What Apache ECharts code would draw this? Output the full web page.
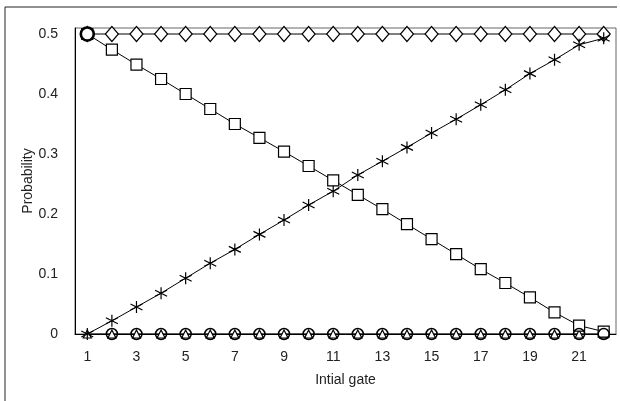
<!DOCTYPE html>
<html><head><meta charset="utf-8">
<script src="https://cdn.jsdelivr.net/npm/echarts@6/dist/echarts.min.js"></script>
<style>html,body{margin:0;padding:0;background:#fff}#c{width:620px;height:401px}</style>
</head><body><div id="c"></div>
<script>
const gates = ['1','2','3','4','5','6','7','8','9','10','11','12','13','14','15','16','17','18','19','20','21','22'];
const diamondVals = [0.5,0.5,0.5,0.5,0.5,0.5,0.5,0.5,0.5,0.5,0.5,0.5,0.5,0.5,0.5,0.5,0.5,0.5,0.5,0.5,0.5,0.5];
const squareVals = [0.5,0.474,0.449,0.425,0.400,0.375,0.350,0.327,0.304,0.280,0.256,0.232,0.208,0.183,0.158,0.133,0.108,0.085,0.061,0.036,0.014,0.004];
const starVals = [0,0.022,0.045,0.068,0.093,0.118,0.141,0.166,0.190,0.215,0.238,0.265,0.288,0.311,0.335,0.358,0.382,0.407,0.434,0.457,0.482,0.493];
const circleVals = [0.5,0,0,0,0,0,0,0,0,0,0,0,0,0,0,0,0,0,0,0,0,0];
const triangleVals = [0,0,0,0,0,0,0,0,0,0,0,0,0,0,0,0,0,0,0,0,0,0];
const yTicks = [0,0.1,0.2,0.3,0.4,0.5];

const font = '"Liberation Sans", Arial, sans-serif';
const hollow = {color:'#fff', borderColor:'#000', borderWidth:1.2};
const line = {color:'#000', width:1};
const circleData = circleVals.map(function(v, i){
  return i === 0 ? {value:v, symbolSize:13, itemStyle:{color:'#fff', borderColor:'#000', borderWidth:2.6}} : v;
});
const chart = echarts.init(document.getElementById('c'), null, {renderer:'canvas'});
chart.setOption({
  animation:false,
  backgroundColor:'#fff',
  graphic:[
    {type:'line', shape:{x1:5,y1:7,x2:617,y2:7}, style:{stroke:'#222',lineWidth:1}},
    {type:'line', shape:{x1:5,y1:7,x2:5,y2:401}, style:{stroke:'#222',lineWidth:1}}
  ],
  grid:{left:75, right:4, top:28, bottom:67, show:true, borderColor:'#666', borderWidth:1},
  xAxis:{
    type:'category', data:gates, boundaryGap:true,
    name:'Intial gate', nameLocation:'middle', nameGap:39, nameMoveOverlap:false,
    nameTextStyle:{fontFamily:font, fontSize:14, color:'#222'},
    axisLine:{show:true, lineStyle:{color:'#000', width:1}},
    axisTick:{show:false},
    axisLabel:{interval:1, fontFamily:font, fontSize:14, color:'#222', margin:16},
    splitLine:{show:false}
  },
  yAxis:{
    type:'value', min:0, max:0.51, interval:0.1,
    name:'Probability', nameLocation:'middle', nameGap:40, nameMoveOverlap:false,
    nameTextStyle:{fontFamily:font, fontSize:14, color:'#222'},
    axisLine:{show:true, lineStyle:{color:'#000', width:1}},
    axisTick:{show:false},
    splitLine:{show:false},
    axisLabel:{fontFamily:font, fontSize:14, color:'#222', margin:17, showMaxLabel:false,
      formatter:function(v){ for (const t of yTicks){ if (Math.abs(v-t)<1e-6) return String(t); } return ''; }}
  },
  series:[
    {type:'line', data:triangleVals, symbol:'triangle', symbolSize:8, itemStyle:hollow, lineStyle:line, z:3},
    {type:'line', data:starVals, symbol:'path://M0,-6 L0,6 M-5.2,-3 L5.2,3 M-5.2,3 L5.2,-3', symbolSize:12, itemStyle:{color:'transparent', borderColor:'#000', borderWidth:1.2}, lineStyle:line, z:5},
    {type:'line', data:squareVals, symbol:'rect', symbolSize:11, itemStyle:hollow, lineStyle:line, z:6},
    {type:'line', data:diamondVals, symbol:'diamond', symbolSize:[13,15], itemStyle:hollow, lineStyle:line, z:2},
    {type:'line', data:circleData, symbol:'circle', symbolSize:11, itemStyle:{color:'transparent', borderColor:'#000', borderWidth:1.5}, lineStyle:{width:0, opacity:0}, z:7}
  ]
});
</script></body></html>
